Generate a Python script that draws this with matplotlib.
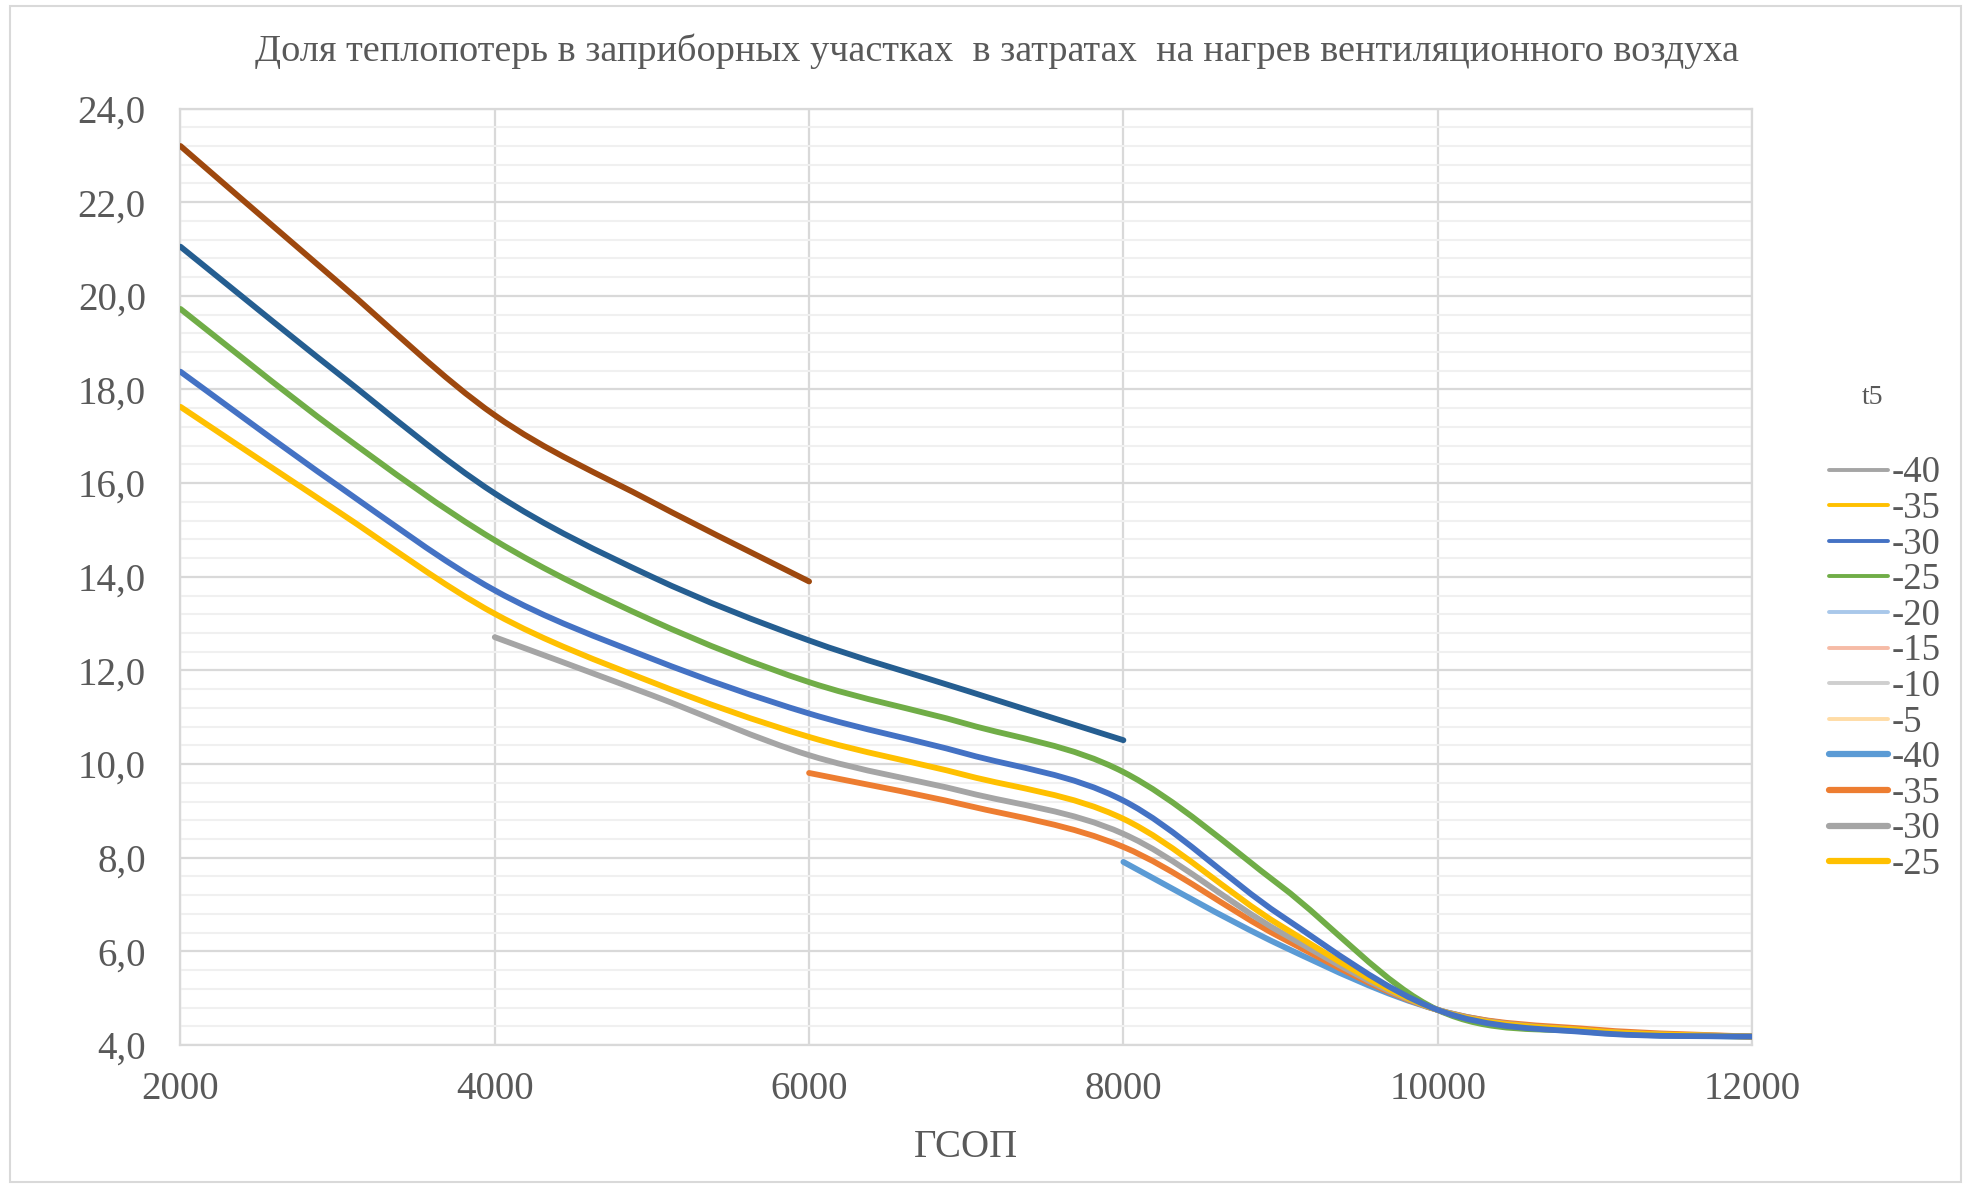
import numpy as np
import matplotlib.pyplot as plt
from matplotlib.path import Path
from matplotlib.patches import PathPatch, Rectangle
from matplotlib.lines import Line2D

plt.rcParams['font.family'] = ['Liberation Serif', 'DejaVu Serif']

# data (None = no point)
gsop = [2000, 3000, 4000, 5000, 6000, 7000, 8000, 9000, 10000, 11000, 12000]
s_brown = [23.2, 20.3, 17.45, 15.6, 13.9, None, None, None, None, None, None]
s_darkblue = [21.05, 18.35, 15.78, 14.0, 12.64, 11.57, 10.51, None, None, None, None]
s_green = [19.72, 17.1, 14.78, 13.07, 11.75, 10.86, 9.83, 7.4, 4.75, 4.28, 4.18]
s_blue = [18.38, 15.95, 13.71, 12.25, 11.08, 10.22, 9.22, 6.77, 4.75, 4.26, 4.18]
s_yellow = [17.63, 15.4, 13.21, 11.75, 10.58, 9.76, 8.83, 6.55, 4.75, 4.30, 4.18]
s_gray = [None, None, 12.71, 11.47, 10.19, 9.40, 8.51, 6.41, 4.75, 4.30, 4.18]
s_orange = [None, None, None, None, 9.81, 9.12, 8.23, 6.30, 4.75, 4.33, 4.18]
s_lightblue = [None, None, None, None, None, None, 7.91, 6.13, 4.75, 4.27, 4.18]

legend_labels = ['-40', '-35', '-30', '-25', '-20', '-15', '-10', '-5',
                 '-40', '-35', '-30', '-25']
legend_colors = ['#A5A5A5', '#FFC000', '#4472C4', '#70AD47', '#A9C8EA', '#F6BBA6',
                 '#CFCFCF', '#FFDCA6', '#5B9BD5', '#ED7D31', '#A5A5A5', '#FFC000']
legend_widths = [2.8] * 8 + [4.5] * 4

title = 'Доля теплопотерь в заприборных участках  в затратах  на нагрев вентиляционного воздуха'
text_color = '#595959'
grid_color = '#D9D9D9'


def smooth_path(xs, ys):
    # Excel-style smoothed line as cubic Bezier segments
    pts = np.array([(x, y) for x, y in zip(xs, ys) if y is not None], dtype=float)
    n = len(pts)
    verts = [pts[0]]
    codes = [Path.MOVETO]
    for i in range(n - 1):
        p0 = pts[i - 1] if i > 0 else pts[i]
        p1, p2 = pts[i], pts[i + 1]
        p3 = pts[i + 2] if i + 2 < n else pts[i + 1]
        verts += [p1 + (p2 - p0) / 6, p2 - (p3 - p1) / 6, p2]
        codes += [Path.CURVE4] * 3
    return Path(verts, codes)


fig = plt.figure(figsize=(19.79, 11.89), dpi=100)
ax = fig.add_axes([0.0912, 0.1211, 0.7941, 0.7876])

series = [(s_brown, '#9E480E'), (s_darkblue, '#255E91'), (s_green, '#70AD47'),
          (s_lightblue, '#5B9BD5'), (s_orange, '#ED7D31'), (s_gray, '#A5A5A5'),
          (s_yellow, '#FFC000'), (s_blue, '#4472C4')]
for vals, col in series:
    ax.add_patch(PathPatch(smooth_path(gsop, vals), fill=False, edgecolor=col,
                           lw=4.2, capstyle='round', joinstyle='round', zorder=3))

ax.set_xlim(2000, 12000)
ax.set_ylim(4, 24)
ax.set_xticks(np.arange(2000, 12001, 2000))
yt = np.arange(4, 24.01, 2)
ax.set_yticks(yt)
ax.set_yticklabels([f'{v:.1f}'.replace('.', ',') for v in yt])
ax.set_yticks(np.arange(4, 24.01, 0.4), minor=True)
ax.grid(which='minor', axis='y', color='#F0F0F0', lw=1.5, zorder=0)
ax.grid(which='major', color=grid_color, lw=1.6, zorder=1)
ax.set_axisbelow(True)
for sp in ax.spines.values():
    sp.set_color(grid_color)
    sp.set_linewidth(1.6)
ax.tick_params(which='both', length=0, labelsize=28, labelcolor=text_color)
ax.tick_params(axis='y', pad=25)
ax.tick_params(axis='x', pad=19)
ax.set_xlabel('ГСОП', fontsize=28, color=text_color, labelpad=15)

fig.text(0.504, 0.957, title, ha='center', va='center', fontsize=27.5, color=text_color)

fig.text(0.946, 0.666, 't5', ha='center', va='center', fontsize=20, color=text_color)
handles = [Line2D([], [], color=c, lw=w, solid_capstyle='round')
           for c, w in zip(legend_colors, legend_widths)]
fig.legend(handles, legend_labels, loc='upper left', bbox_to_anchor=(0.915, 0.632),
           frameon=False, fontsize=26.5, labelcolor=text_color, handlelength=1.6,
           handletextpad=0.1, labelspacing=0.03, borderpad=0)

fig.add_artist(Rectangle((0.005, 0.006), 0.986, 0.989, transform=fig.transFigure,
                         fill=False, edgecolor=grid_color, lw=1.5))

fig.savefig('out.png', dpi=100)
